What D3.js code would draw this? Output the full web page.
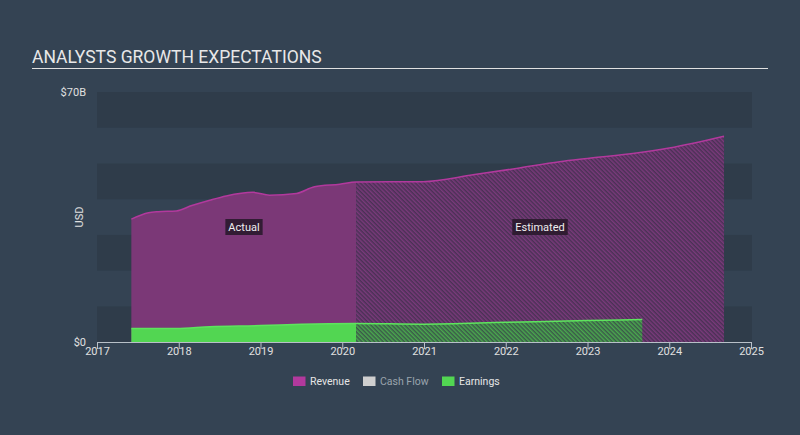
<!DOCTYPE html>
<html><head><meta charset="utf-8">
<script src="https://cdn.jsdelivr.net/npm/d3@7"></script>
<style>
html,body{margin:0;padding:0;background:#344353;}
svg{display:block;font-family:Roboto,"Open Sans",sans-serif;}
</style></head>
<body><svg id="c" width="800" height="435"></svg>
<script>
// ---- data (dates as fractional years, values in $B) ----
const revenueDates  = [2017.42, 2017.63, 2017.75, 2017.97, 2018.16, 2018.38, 2018.58, 2018.91, 2019.11, 2019.44, 2019.66, 2019.97, 2020.17, 2020.99, 2021.6, 2022.13, 2022.66, 2023.0, 2023.6, 2024.0, 2024.67];
const revenueValues = [34.4, 36.2, 36.5, 36.7, 38.2, 39.7, 40.9, 41.9, 41.1, 41.6, 43.5, 44.2, 44.8, 44.9, 46.8, 48.6, 50.5, 51.4, 52.9, 54.3, 57.6];
const earningsDates  = [2017.42, 2017.97, 2018.38, 2019.0, 2019.5, 2020.17, 2020.99, 2022.0, 2023.0, 2023.67];
const earningsValues = [3.8, 3.8, 4.3, 4.6, 5.0, 5.2, 5.0, 5.5, 6.0, 6.3];
const actualEnd = 2020.17;
const xTicks = [2017, 2018, 2019, 2020, 2021, 2022, 2023, 2024, 2025];
const yTickValues = [0, 70];
const yTickLabels = ["$0", "$70B"];
const legendItems = ["Revenue", "Cash Flow", "Earnings"];
const legendColors = ["#b2399d", "#cfcfcf", "#52d652"];
const legendTextColors = ["#e6e6e6", "#9aa3ad", "#e6e6e6"];

const svg = d3.select("#c");
const W = 800, H = 435;
svg.append("rect").attr("width", W).attr("height", H).attr("fill", "#344353");

// title
svg.append("text").attr("x", 32).attr("y", 63).attr("fill", "#e8e8e8")
  .style("font-size", "17.5px").text("ANALYSTS GROWTH EXPECTATIONS");
svg.append("line").attr("x1", 32).attr("x2", 768).attr("y1", 68.5).attr("y2", 68.5)
  .attr("stroke", "#e0e0e0").attr("stroke-width", 1);

const x = d3.scaleLinear().domain([2017, 2025]).range([97, 751]);
const y = d3.scaleLinear().domain([0, 70]).range([342, 92]);

// bands
const bandStarts = d3.range(0, 70, 10);
svg.append("g").selectAll("rect").data(bandStarts).join("rect")
  .attr("x", x(2017)).attr("width", x(2025) - x(2017) + 1)
  .attr("y", d => y(d + 10)).attr("height", d => y(d) - y(d + 10))
  .attr("fill", (d, i) => (i % 2 === 0) ? "#2f3c4a" : "#344353");

// patterns
const defs = svg.append("defs");
function hatch(id, bg, fg) {
  const p = defs.append("pattern").attr("id", id).attr("patternUnits", "userSpaceOnUse")
    .attr("width", 3).attr("height", 3).attr("patternTransform", "rotate(-45)");
  p.append("rect").attr("width", 3).attr("height", 3).attr("fill", bg);
  p.append("rect").attr("width", 1.5).attr("height", 3).attr("fill", fg);
}
hatch("hRev", "#4a3155", "#7a3a7b");
hatch("hEarn", "#3b5a4a", "#4aa84e");
defs.append("clipPath").attr("id", "clipA").append("rect")
  .attr("x", 0).attr("y", 0).attr("width", x(actualEnd)).attr("height", H);
defs.append("clipPath").attr("id", "clipE").append("rect")
  .attr("x", x(actualEnd)).attr("y", 0).attr("width", W).attr("height", H);

const rev = revenueDates.map((d, i) => [d, revenueValues[i]]);
const earn = earningsDates.map((d, i) => [d, earningsValues[i]]);
const area = d3.area().x(d => x(d[0])).y0(y(0)).y1(d => y(d[1])).curve(d3.curveMonotoneX);
const line = d3.line().x(d => x(d[0])).y(d => y(d[1])).curve(d3.curveMonotoneX);

// revenue
svg.append("path").datum(rev).attr("d", area).attr("fill", "#7b3877").attr("clip-path", "url(#clipA)");
svg.append("path").datum(rev).attr("d", area).attr("fill", "url(#hRev)").attr("clip-path", "url(#clipE)");
svg.append("path").datum(rev).attr("d", line).attr("fill", "none").attr("stroke", "#b2399d").attr("stroke-width", 1.5);
// earnings
svg.append("path").datum(earn).attr("d", area).attr("fill", "#52d652").attr("clip-path", "url(#clipA)");
svg.append("path").datum(earn).attr("d", area).attr("fill", "url(#hEarn)").attr("clip-path", "url(#clipE)");
svg.append("path").datum(earn).attr("d", line).attr("fill", "none").attr("stroke", "#5ee45e").attr("stroke-width", 1.5);

// x axis
const xAxis = svg.append("g").attr("transform", `translate(0,${y(0)})`)
  .call(d3.axisBottom(x).tickValues(xTicks).tickFormat(d3.format("d")).tickSizeOuter(0).tickSize(7));
xAxis.select(".domain").attr("stroke", "#b8c0c8");
xAxis.selectAll(".tick line").attr("stroke", "#b8c0c8");
xAxis.selectAll("text").attr("fill", "#e0e0e0").style("font-size", "11px").attr("dy", "0.55em").attr("y", 7);
xAxis.selectAll("text").style("font-family", "Roboto, sans-serif");

// y labels
svg.append("g").selectAll("text").data(yTickValues).join("text")
  .attr("x", 86).attr("y", d => y(d)).attr("dy", "0.35em").attr("text-anchor", "end")
  .attr("fill", "#e0e0e0").style("font-size", "11px").text((d, i) => yTickLabels[i]);
svg.append("text").attr("transform", `translate(83,${(y(0) + y(70)) / 2}) rotate(-90)`)
  .attr("text-anchor", "middle").attr("fill", "#e0e0e0").style("font-size", "11px").text("USD");

// labels
function tag(cx, cy, txt) {
  const t = svg.append("text").attr("x", cx).attr("y", cy).attr("dy", "0.35em").attr("text-anchor", "middle")
    .attr("fill", "#eeeeee").style("font-size", "11px").text(txt);
  const b = t.node().getBBox();
  svg.insert("rect", () => t.node()).attr("x", b.x - 3).attr("y", cy - 8).attr("width", b.width + 6).attr("height", 16)
    .attr("fill", "#2a1a2c").attr("opacity", 0.9);
}
tag(244, 227, "Actual");
tag(540, 227, "Estimated");

// legend
const lx = [293, 363, 442];
const lg = svg.append("g");
legendItems.forEach((name, i) => {
  lg.append("rect").attr("x", lx[i]).attr("y", 376.5).attr("width", 12.5).attr("height", 9.5).attr("fill", legendColors[i]);
  lg.append("text").attr("x", lx[i] + 17).attr("y", 381.5).attr("dy", "0.35em")
    .attr("fill", legendTextColors[i]).style("font-size", "10.5px").text(name);
});
</script></body></html>
